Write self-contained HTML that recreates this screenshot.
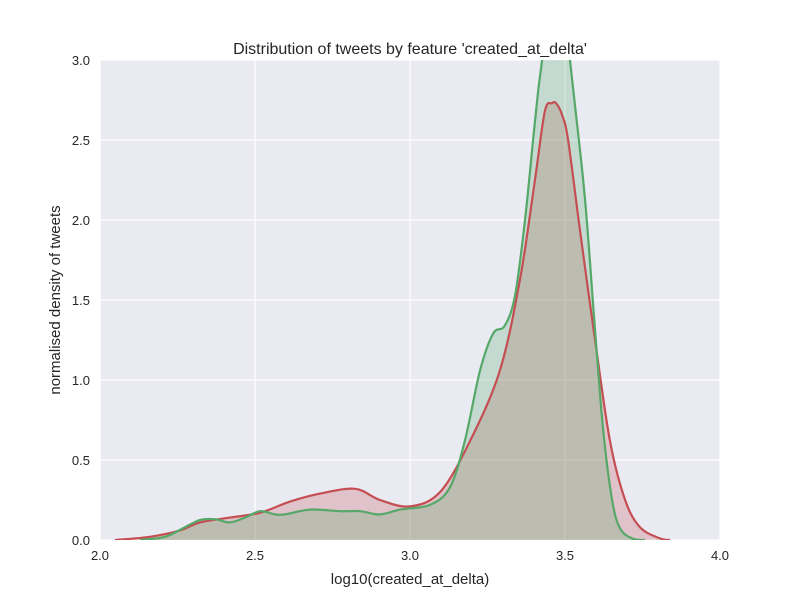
<!DOCTYPE html>
<html><head><meta charset="utf-8"><style>
body{margin:0;background:#fff;font-family:"Liberation Sans","DejaVu Sans",sans-serif}
</style></head><body>
<svg id="c" width="800" height="600" xmlns="http://www.w3.org/2000/svg">
<defs><clipPath id="pc"><rect x="100" y="60" width="620" height="480"/></clipPath></defs>
<rect x="100" y="60" width="620" height="480" fill="#eaeaf2"/>
<g id="grid"></g><g id="series" clip-path="url(#pc)"></g><g id="ticks"></g>
<text x="410" y="54" text-anchor="middle" font-size="16" fill="#262626">Distribution of tweets by feature 'created_at_delta'</text>
<text x="410" y="584" text-anchor="middle" font-size="15" fill="#262626">log10(created_at_delta)</text>
<text transform="translate(60,300) rotate(-90)" text-anchor="middle" font-size="15" fill="#262626">normalised density of tweets</text>
</svg>
<script>
const xTicks=[2.0,2.5,3.0,3.5,4.0];
const yTicks=[0.0,0.5,1.0,1.5,2.0,2.5,3.0];
const redX=[2.048,2.161,2.258,2.323,2.419,2.516,2.613,2.710,2.823,2.903,3.0,3.097,3.194,3.290,3.355,3.403,3.435,3.458,3.471,3.490,3.510,3.548,3.597,3.645,3.694,3.742,3.806,3.839];
const redY=[0,0.02,0.06,0.11,0.14,0.17,0.24,0.29,0.32,0.25,0.21,0.30,0.62,1.06,1.63,2.25,2.68,2.73,2.73,2.66,2.5,1.94,1.25,0.62,0.25,0.08,0.01,0];
const greenX=[2.129,2.210,2.274,2.323,2.371,2.419,2.468,2.516,2.565,2.597,2.677,2.774,2.839,2.903,2.968,3.065,3.129,3.177,3.226,3.268,3.306,3.339,3.371,3.397,3.413,3.426,3.448,3.471,3.494,3.516,3.532,3.565,3.597,3.623,3.652,3.677,3.716,3.758];
const greenY=[0,0.02,0.08,0.125,0.13,0.11,0.14,0.18,0.16,0.16,0.19,0.18,0.18,0.16,0.19,0.22,0.33,0.62,1.06,1.29,1.34,1.53,2.0,2.5,2.8,3.0,3.4,3.6,3.4,3.0,2.72,2.12,1.31,0.69,0.25,0.075,0.01,0];
const NS='http://www.w3.org/2000/svg';
const sx=v=>100+(v-2)*310, sy=v=>540-v*160;
function mk(t,a,p){const e=document.createElementNS(NS,t);for(const k in a)e.setAttribute(k,a[k]);p.appendChild(e);return e;}
const grid=document.getElementById('grid'),ticks=document.getElementById('ticks'),ser=document.getElementById('series');
xTicks.forEach(v=>{const l=mk('line',{x1:sx(v),x2:sx(v),y1:60,y2:540,stroke:'#fff','stroke-width':1.2},grid);

const t=mk('text',{x:sx(v),y:560,'text-anchor':'middle','font-size':13,fill:'#262626'},ticks);t.textContent=v.toFixed(1);
});
yTicks.forEach(v=>{const l=mk('line',{x1:100,x2:720,y1:sy(v),y2:sy(v),stroke:'#fff','stroke-width':1.2},grid);

const t=mk('text',{x:90,y:sy(v)+5,'text-anchor':'end','font-size':13,fill:'#262626'},ticks);t.textContent=v.toFixed(1);
});
function path(X,Y){let d='';const P=X.map((x,i)=>[sx(x),sy(Y[i])]);
d='M'+P[0][0]+','+P[0][1];
for(let i=0;i<P.length-1;i++){const p0=P[Math.max(0,i-1)],p1=P[i],p2=P[i+1],p3=P[Math.min(P.length-1,i+2)];
const c1=[p1[0]+(p2[0]-p0[0])/6,p1[1]+(p2[1]-p0[1])/6],c2=[p2[0]-(p3[0]-p1[0])/6,p2[1]-(p3[1]-p1[1])/6];
d+=` C${c1[0]},${c1[1]} ${c2[0]},${c2[1]} ${p2[0]},${p2[1]}`;}return d;}
const rd=path(redX,redY),gd=path(greenX,greenY);
let e=mk('path',{d:rd+` L${sx(redX[redX.length-1])},540 L${sx(redX[0])},540Z`,fill:'#c44e52','fill-opacity':0.25},ser);

e=mk('path',{d:gd+` L${sx(greenX[greenX.length-1])},540 L${sx(greenX[0])},540Z`,fill:'#55a868','fill-opacity':0.25},ser);

e=mk('path',{d:rd,fill:'none',stroke:'#c44e52','stroke-width':2.2,'stroke-linejoin':'round'},ser);

e=mk('path',{d:gd,fill:'none',stroke:'#55a868','stroke-width':2.2,'stroke-linejoin':'round'},ser);

</script>
</body></html>
